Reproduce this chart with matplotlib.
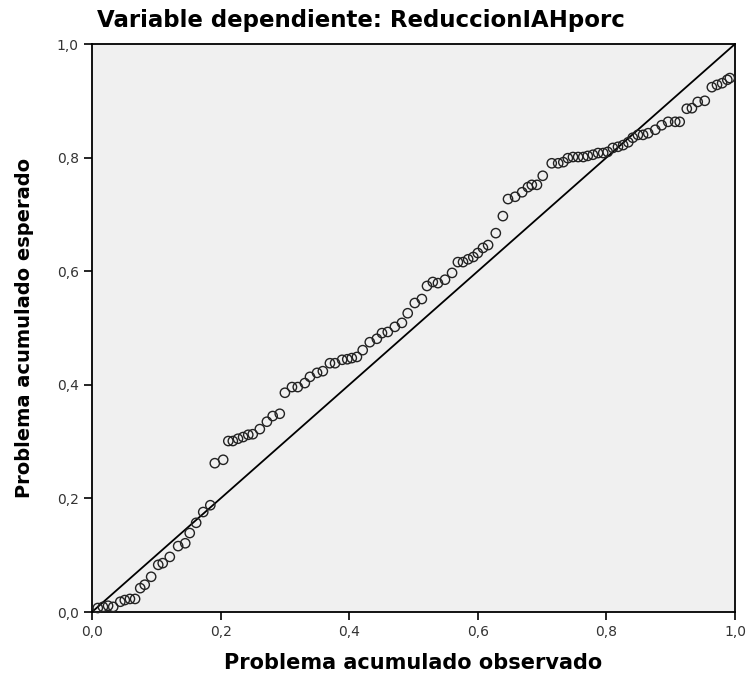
import matplotlib.pyplot as plt
from matplotlib.ticker import FuncFormatter

obs = [0.009, 0.017, 0.025, 0.033, 0.044, 0.051, 0.059, 0.067, 0.075, 0.082,
       0.092, 0.103, 0.110, 0.121, 0.134, 0.145, 0.152, 0.162, 0.173, 0.184,
       0.191, 0.204, 0.212, 0.219, 0.227, 0.235, 0.243, 0.250, 0.261, 0.272,
       0.281, 0.292, 0.300, 0.311, 0.320, 0.331, 0.339, 0.350, 0.359, 0.370,
       0.378, 0.389, 0.397, 0.404, 0.412, 0.421, 0.432, 0.443, 0.451, 0.460,
       0.471, 0.482, 0.491, 0.502, 0.513, 0.521, 0.530, 0.538, 0.549, 0.560,
       0.569, 0.577, 0.585, 0.593, 0.600, 0.608, 0.616, 0.628, 0.639, 0.647,
       0.658, 0.669, 0.678, 0.684, 0.692, 0.701, 0.715, 0.725, 0.733, 0.740,
       0.748, 0.756, 0.764, 0.771, 0.779, 0.787, 0.795, 0.802, 0.810, 0.818,
       0.826, 0.834, 0.841, 0.849, 0.857, 0.865, 0.876, 0.886, 0.896, 0.907,
       0.914, 0.925, 0.933, 0.942, 0.953, 0.964, 0.972, 0.980, 0.988, 0.992]
esp = [0.007, 0.009, 0.011, 0.009, 0.018, 0.021, 0.023, 0.023, 0.042, 0.048,
       0.062, 0.083, 0.086, 0.097, 0.116, 0.121, 0.139, 0.157, 0.176, 0.188,
       0.262, 0.268, 0.301, 0.301, 0.305, 0.308, 0.312, 0.313, 0.322, 0.335,
       0.345, 0.349, 0.386, 0.396, 0.396, 0.403, 0.414, 0.421, 0.424, 0.438,
       0.438, 0.444, 0.445, 0.447, 0.449, 0.461, 0.475, 0.481, 0.491, 0.493,
       0.502, 0.509, 0.526, 0.544, 0.551, 0.574, 0.581, 0.579, 0.585, 0.597,
       0.616, 0.616, 0.621, 0.625, 0.632, 0.641, 0.646, 0.667, 0.697, 0.727,
       0.731, 0.739, 0.748, 0.752, 0.752, 0.768, 0.790, 0.790, 0.792, 0.799,
       0.801, 0.801, 0.801, 0.803, 0.805, 0.808, 0.808, 0.810, 0.817, 0.819,
       0.822, 0.827, 0.835, 0.840, 0.840, 0.843, 0.849, 0.857, 0.863, 0.863,
       0.863, 0.886, 0.887, 0.898, 0.900, 0.924, 0.928, 0.931, 0.937, 0.940]

ticks = [0.0, 0.2, 0.4, 0.6, 0.8, 1.0]

fig = plt.figure(figsize=(7.5, 6.77), dpi=100)
ax = fig.add_axes([92 / 750, 1 - 612 / 677, 643 / 750, 568 / 677])
ax.set_facecolor('#f0f0f0')

ax.plot([0, 1], [0, 1], color='black', lw=1.3, zorder=2)
ax.scatter(obs, esp, s=45, facecolors='none', edgecolors='#222222', linewidths=1.0, zorder=3, clip_on=False)

ax.set_xlim(0, 1)
ax.set_ylim(0, 1)
ax.set_xticks(ticks)
ax.set_yticks(ticks)
fmt = FuncFormatter(lambda v, p: f"{v:.1f}".replace('.', ','))
ax.xaxis.set_major_formatter(fmt)
ax.yaxis.set_major_formatter(fmt)
ax.tick_params(direction='out', length=6, width=1.2, labelsize=10, colors='black', labelcolor='#333333')
for s in ax.spines.values():
    s.set_linewidth(1.3)

fig.text(97 / 750, 1 - 21 / 677, "Variable dependiente: ReduccionIAHporc",
         ha='left', va='center', fontsize=16.5, fontweight='bold')
fig.text(413 / 750, 1 - 663 / 677, "Problema acumulado observado",
         ha='center', va='center', fontsize=15, fontweight='bold')
fig.text(25 / 750, 1 - 328 / 677, "Problema acumulado esperado",
         ha='center', va='center', rotation=90, fontsize=14, fontweight='bold')

fig.savefig('out.png', dpi=100)
